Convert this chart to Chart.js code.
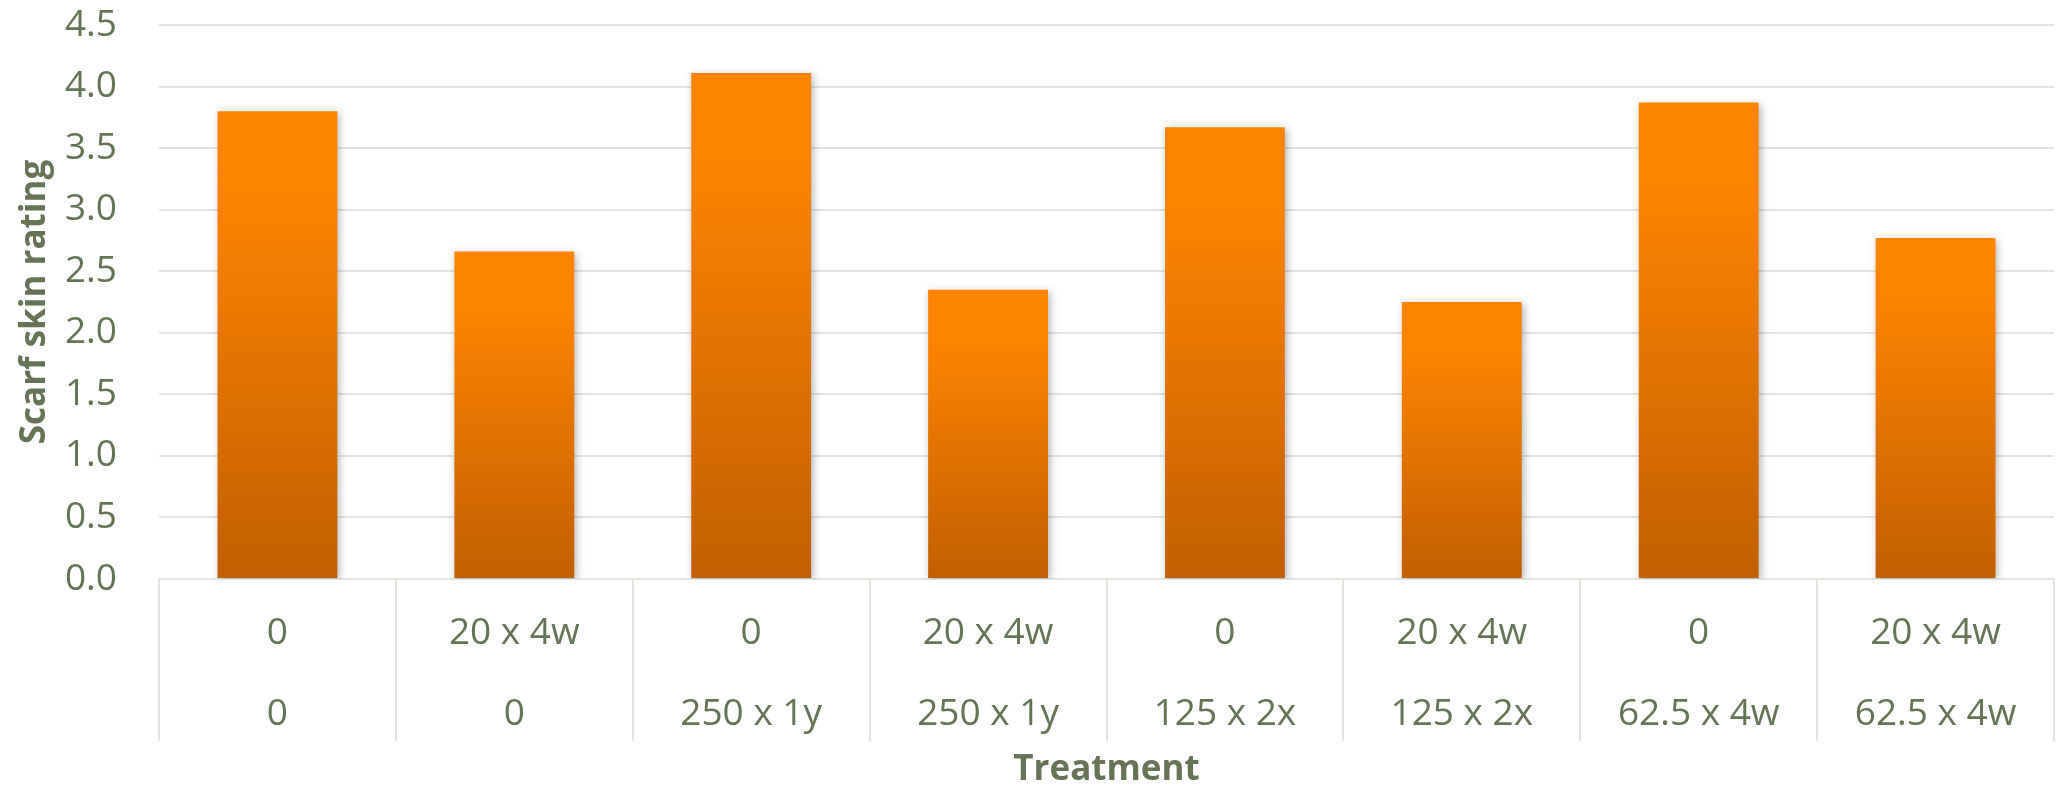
<!DOCTYPE html>
<html>
<head>
<meta charset="utf-8">
<script src="https://cdn.jsdelivr.net/npm/chart.js@4.4.1/dist/chart.umd.min.js"></script>
<style>
  html, body { margin: 0; padding: 0; background: #fff; }
  #wrap { width: 2056px; height: 791px; position: relative; }
</style>
</head>
<body>
<div id="wrap"><canvas id="chart"></canvas></div>
<script>
// Treatment labels (two rows under each bar)
const doseRow1 = ['0', '20 x 4w', '0', '20 x 4w', '0', '20 x 4w', '0', '20 x 4w'];
const doseRow2 = ['0', '0', '250 x 1y', '250 x 1y', '125 x 2x', '125 x 2x', '62.5 x 4w', '62.5 x 4w'];

// Mean scarf skin rating per treatment
const ratings = [3.80, 2.66, 4.11, 2.35, 3.67, 2.25, 3.87, 2.77];

// Y axis range
const yMin = 0;
const yMax = 4.5;
const yStep = 0.5;

const textColor = '#657455';
const gridColor = '#E4E4DE';
const fontFamily = '"Open Sans", "Noto Sans", sans-serif';

const labels = doseRow1.map((a, i) => [a, doseRow2[i]]);

// Each bar gets its own top-to-bottom orange gradient
function barFill(ctx) {
  const chart = ctx.chart;
  if (ctx.type !== 'data' || !chart.chartArea) return '#F07800';
  const yScale = chart.scales.y;
  const top = yScale.getPixelForValue(ratings[ctx.dataIndex]);
  const base = yScale.getPixelForValue(0);
  const g = chart.ctx.createLinearGradient(0, top, 0, base);
  g.addColorStop(0, '#FF8400');
  g.addColorStop(0.2, '#FC8300');
  g.addColorStop(1, '#C25F00');
  return g;
}

// Soft drop shadow behind the bars
const barShadow = {
  id: 'barShadow',
  beforeDatasetsDraw(chart) {
    const c = chart.ctx;
    c.save();
    c.shadowColor = 'rgba(0, 0, 0, 0.30)';
    c.shadowBlur = 8;
    c.shadowOffsetX = 2;
    c.shadowOffsetY = 2;
  },
  afterDatasetsDraw(chart) {
    chart.ctx.restore();
  }
};

new Chart(document.getElementById('chart'), {
  type: 'bar',
  data: {
    labels: labels,
    datasets: [{
      label: 'Scarf skin rating',
      data: ratings,
      backgroundColor: barFill,
      borderWidth: 0,
      categoryPercentage: 1.0,
      barPercentage: 0.506
    }]
  },
  options: {
    responsive: true,
    maintainAspectRatio: false,
    animation: false,
    layout: { padding: { top: 25, right: 2, bottom: 0, left: 0 } },
    plugins: {
      legend: { display: false },
      tooltip: { enabled: false }
    },
    scales: {
      x: {
        afterFit: s => { s.height = 212; },
        grid: {
          display: true,
          drawOnChartArea: false,
          drawTicks: true,
          tickLength: 162,
          color: gridColor,
          lineWidth: 2,
          offset: true
        },
        border: { display: true, color: gridColor, width: 2 },
        ticks: {
          color: textColor,
          font: { family: fontFamily, size: 37, lineHeight: 81 / 37 },
          padding: -148.5,
          autoSkip: false,
          maxRotation: 0
        },
        title: {
          display: true,
          text: 'Treatment',
          color: textColor,
          font: { family: fontFamily, size: 35, weight: 'bold', lineHeight: 1.2 },
          padding: { top: 0, bottom: 0 }
        }
      },
      y: {
        min: yMin,
        max: yMax,
        afterFit: s => {
          s.width = 159;
          // keep the label padding from pushing the plot down
          s.paddingTop = 22;
          s.paddingBottom = 22;
        },
        grid: {
          color: gridColor,
          lineWidth: 2,
          drawTicks: false
        },
        border: { display: false },
        ticks: {
          stepSize: yStep,
          color: textColor,
          font: { family: fontFamily, size: 37 },
          padding: 42,
          callback: v => Number(v).toFixed(1)
        },
        title: {
          display: true,
          text: 'Scarf skin rating',
          color: textColor,
          font: { family: fontFamily, size: 35, weight: 'bold', lineHeight: 1.2 },
          padding: { top: 14, bottom: 0 }
        }
      }
    }
  },
  plugins: [barShadow]
});
</script>
</body>
</html>
